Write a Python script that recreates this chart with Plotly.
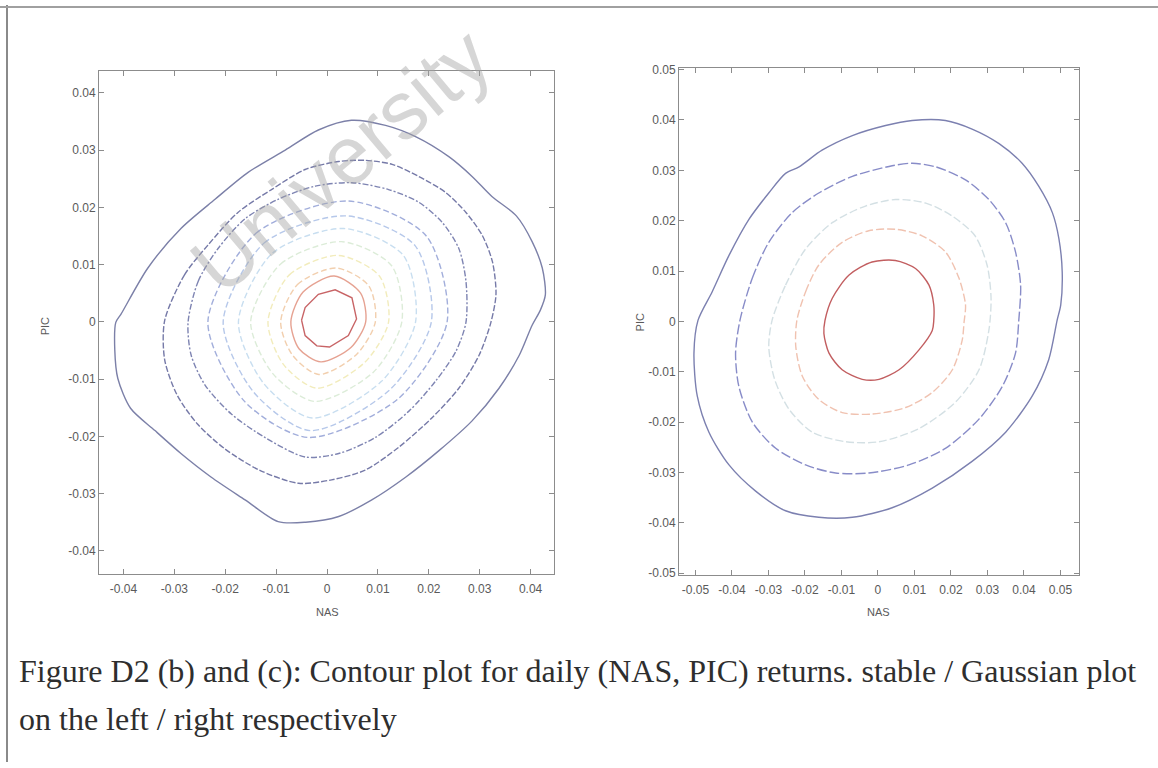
import plotly.graph_objects as go

# ---------------- ticks ----------------
left_ticks = [-0.04, -0.03, -0.02, -0.01, 0.0, 0.01, 0.02, 0.03, 0.04]
left_tick_labels = ["-0.04", "-0.03", "-0.02", "-0.01", "0", "0.01", "0.02", "0.03", "0.04"]
right_ticks = [-0.05, -0.04, -0.03, -0.02, -0.01, 0.0, 0.01, 0.02, 0.03, 0.04, 0.05]
right_tick_labels = ["-0.05", "-0.04", "-0.03", "-0.02", "-0.01", "0", "0.01", "0.02", "0.03", "0.04", "0.05"]

# ---------------- stable (left) contour lines ----------------
stable_1_x = [-0.0415, -0.0405, -0.0352, -0.0287, -0.0220, -0.0155, -0.0082, -0.0017, 0.0048, 0.0115, 0.0175, 0.0240,
              0.0285, 0.0324, 0.0372, 0.0403, 0.0423, 0.0429, 0.0419, 0.0403, 0.0378, 0.0338, 0.0285, 0.0220, 0.0155,
              0.0088, 0.0023, -0.0042, -0.0096, -0.0161, -0.0228, -0.0287, -0.0338, -0.0386, -0.0411, -0.0417, -0.0415]
stable_1_y = [-0.0001, 0.0013, 0.0094, 0.0163, 0.0214, 0.0261, 0.0300, 0.0335, 0.0352, 0.0343, 0.0323, 0.0288,
              0.0254, 0.0219, 0.0185, 0.0140, 0.0094, 0.0047, 0.0020, -0.0006, -0.0058, -0.0116, -0.0173, -0.0225, -0.0271,
              -0.0311, -0.0340, -0.0350, -0.0349, -0.0311, -0.0271, -0.0230, -0.0190, -0.0151, -0.0099, -0.0049, -0.0001]
stable_2_x = [-0.0319, -0.0280, -0.0234, -0.0175, -0.0109, -0.0043, 0.0023, 0.0075, 0.0128, 0.0180, 0.0233, 0.0273,
              0.0305, 0.0325, 0.0332, 0.0322, 0.0299, 0.0259, 0.0207, 0.0141, 0.0075, 0.0009, -0.0056, -0.0133, -0.0202,
              -0.0255, -0.0295, -0.0319, -0.0319]
stable_2_y = [0.0002, 0.0082, 0.0134, 0.0191, 0.0231, 0.0266, 0.0280, 0.0282, 0.0275, 0.0254, 0.0226, 0.0191,
              0.0151, 0.0105, 0.0048, -0.0001, -0.0058, -0.0116, -0.0167, -0.0219, -0.0259, -0.0276, -0.0282, -0.0259, -0.0221,
              -0.0178, -0.0127, -0.0066, 0.0002]
stable_3_x = [-0.0273, -0.0253, -0.0214, -0.0161, -0.0096, -0.0023, 0.0049, 0.0121, 0.0180, 0.0226, 0.0259, 0.0273,
              0.0273, 0.0253, 0.0213, 0.0161, 0.0095, 0.0023, -0.0043, -0.0122, -0.0188, -0.0240, -0.0267, -0.0273]
stable_3_y = [-0.0001, 0.0071, 0.0128, 0.0180, 0.0214, 0.0237, 0.0243, 0.0231, 0.0209, 0.0174, 0.0128, 0.0071,
              -0.0001, -0.0052, -0.0104, -0.0156, -0.0202, -0.0230, -0.0236, -0.0202, -0.0161, -0.0110, -0.0058, -0.0001]
stable_4_x = [-0.0234, -0.0139, 0.0042, 0.0195, 0.0236, 0.0139, -0.0037, -0.0162, -0.0234]
stable_4_y = [0.0, 0.0155, 0.0211, 0.0150, 0.0, -0.0135, -0.0202, -0.0139, 0.0]
stable_5_x = [-0.0204, -0.0123, 0.0038, 0.0173, 0.0205, 0.0123, -0.0033, -0.0144, -0.0204]
stable_5_y = [0.0, 0.0138, 0.0185, 0.0133, 0.0, -0.0119, -0.0190, -0.0123, 0.0]
stable_6_x = [-0.0174, -0.0107, 0.0033, 0.0150, 0.0174, 0.0107, -0.0029, -0.0125, -0.0174]
stable_6_y = [0.0, 0.0120, 0.0163, 0.0116, 0.0, -0.0104, -0.0168, -0.0107, 0.0]
stable_7_x = [-0.0150, -0.0091, 0.0028, 0.0127, 0.0147, 0.0091, -0.0024, -0.0106, -0.0150]
stable_7_y = [0.0, 0.0101, 0.0140, 0.0098, 0.0, -0.0088, -0.0139, -0.0091, 0.0]
stable_8_x = [-0.0116, -0.0074, 0.0022, 0.0103, 0.0121, 0.0074, -0.0020, -0.0086, -0.0116]
stable_8_y = [0.0, 0.0082, 0.0116, 0.0080, 0.0, -0.0071, -0.0116, -0.0074, 0.0]
stable_9_x = [-0.0091, -0.0058, 0.0018, 0.0082, 0.0095, 0.0058, -0.0016, -0.0068, -0.0091]
stable_9_y = [0.0, 0.0065, 0.0094, 0.0063, 0.0, -0.0057, -0.0092, -0.0058, 0.0]
stable_10_x = [-0.0071, -0.0047, 0.0014, 0.0066, 0.0076, 0.0047, -0.0012, -0.0055, -0.0071]
stable_10_y = [0.0, 0.0052, 0.0080, 0.0050, 0.0, -0.0045, -0.0070, -0.0047, 0.0]
stable_11_x = [-0.0050, -0.0043, -0.0017, 0.0016, 0.0049, 0.0058, 0.0042, 0.0005, -0.0020, -0.0043, -0.0050]
stable_11_y = [0.0003, 0.0025, 0.0048, 0.0056, 0.0042, 0.0005, -0.0024, -0.0044, -0.0042, -0.0024, 0.0003]

# ---------------- Gaussian (right) contour lines ----------------
gauss_1_x = [-0.0493, -0.0454, -0.0408, -0.0353, -0.0299, -0.0253, -0.0216, -0.0153, -0.0070, 0.0021, 0.0094, 0.0185,
             0.0258, 0.0332, 0.0395, 0.0441, 0.0478, 0.0496, 0.0505, 0.0501, 0.0491, 0.0468, 0.0423, 0.0350, 0.0258,
             0.0149, 0.0039, -0.0070, -0.0162, -0.0253, -0.0335, -0.0408, -0.0463, -0.0495, -0.0504, -0.0493]
gauss_1_y = [0.0002, 0.0059, 0.0131, 0.0203, 0.0255, 0.0294, 0.0307, 0.0340, 0.0369, 0.0389, 0.0399, 0.0399,
             0.0382, 0.0353, 0.0314, 0.0268, 0.0216, 0.0164, 0.0098, 0.0033, 0.0002, -0.0076, -0.0148, -0.0220, -0.0278,
             -0.0331, -0.0370, -0.0389, -0.0389, -0.0376, -0.0337, -0.0285, -0.0220, -0.0148, -0.0063, 0.0002]
gauss_2_x = [-0.0378, -0.0344, -0.0299, -0.0235, -0.0162, -0.0070, 0.0039, 0.0094, 0.0158, 0.0240, 0.0304, 0.0350,
             0.0377, 0.0391, 0.0386, 0.0377, 0.0341, 0.0277, 0.0185, 0.0085, -0.0025, -0.0116, -0.0198, -0.0280, -0.0344,
             -0.0381, -0.0390, -0.0378]
gauss_2_y = [0.0002, 0.0086, 0.0157, 0.0216, 0.0255, 0.0288, 0.0309, 0.0314, 0.0307, 0.0281, 0.0242, 0.0196,
             0.0138, 0.0072, 0.0002, -0.0063, -0.0129, -0.0194, -0.0252, -0.0285, -0.0301, -0.0301, -0.0285, -0.0252, -0.0200,
             -0.0129, -0.0063, 0.0002]
gauss_3_x = [-0.0290, -0.0253, -0.0198, -0.0125, -0.0034, 0.0048, 0.0131, 0.0204, 0.0266, 0.0299, 0.0310, 0.0304,
             0.0277, 0.0213, 0.0112, 0.0003, -0.0088, -0.0180, -0.0244, -0.0283, -0.0299, -0.0290]
gauss_3_y = [0.0002, 0.0072, 0.0144, 0.0196, 0.0229, 0.0242, 0.0235, 0.0209, 0.0170, 0.0112, 0.0047, -0.0018,
             -0.0096, -0.0160, -0.0213, -0.0239, -0.0239, -0.0220, -0.0174, -0.0115, -0.0050, 0.0002]
gauss_4_x = [-0.0222, -0.0198, -0.0162, -0.0098, -0.0025, 0.0048, 0.0121, 0.0185, 0.0222, 0.0240, 0.0236, 0.0231,
             0.0204, 0.0149, 0.0076, -0.0016, -0.0098, -0.0162, -0.0207, -0.0225, -0.0222]
gauss_4_y = [0.0002, 0.0059, 0.0112, 0.0157, 0.0180, 0.0183, 0.0170, 0.0138, 0.0086, 0.0033, -0.0002, -0.0037,
             -0.0096, -0.0141, -0.0171, -0.0184, -0.0181, -0.0155, -0.0109, -0.0050, 0.0002]
gauss_5_x = [-0.0145, -0.0125, -0.0079, -0.0016, 0.0048, 0.0103, 0.0140, 0.0153, 0.0153, 0.0149, 0.0112, 0.0058,
             0.0003, -0.0043, -0.0098, -0.0134, -0.0148, -0.0145]
gauss_5_y = [0.0002, 0.0046, 0.0092, 0.0118, 0.0121, 0.0105, 0.0072, 0.0033, 0.0001, -0.0018, -0.0057, -0.0096,
             -0.0115, -0.0115, -0.0096, -0.0063, -0.0024, 0.0002]

stable_lines = [
    (stable_1_x, stable_1_y), (stable_2_x, stable_2_y), (stable_3_x, stable_3_y), (stable_4_x, stable_4_y),
    (stable_5_x, stable_5_y), (stable_6_x, stable_6_y), (stable_7_x, stable_7_y), (stable_8_x, stable_8_y),
    (stable_9_x, stable_9_y), (stable_10_x, stable_10_y), (stable_11_x, stable_11_y),
]
gauss_lines = [
    (gauss_1_x, gauss_1_y), (gauss_2_x, gauss_2_y), (gauss_3_x, gauss_3_y),
    (gauss_4_x, gauss_4_y), (gauss_5_x, gauss_5_y),
]

# ---------------- styles ----------------
stable_colors = ["#7c80a8", "#767aa8", "#7e84b2", "#a2aedb", "#b6c8ea", "#c8def0", "#dcecd8",
                 "#f2ecbc", "#f2cfae", "#e6a292", "#c86466"]
stable_dash = ["solid", "6px,2px", "6px,2px,2px,2px", "6px,3px", "6px,3px", "6px,3px", "6px,3px",
               "6px,3px", "6px,3px", "solid", "solid"]
gauss_colors = ["#7c80b0", "#888cc8", "#d4e0e4", "#f0c2b0", "#c25e60"]
gauss_dash = ["solid", "10px,3px", "8px,3px", "8px,3px", "solid"]

tick_font = dict(family="Liberation Sans, Arial, sans-serif", size=12, color="#5a5a5a")
axis_col = "#8c8c8c"

fig = go.Figure()

for i, (xs, ys) in enumerate(stable_lines):
    fig.add_trace(go.Scatter(
        x=xs, y=ys, mode="lines", xaxis="x", yaxis="y",
        line=dict(color=stable_colors[i], width=1.4, dash=stable_dash[i],
                  shape="linear" if i == len(stable_lines) - 1 else "spline", smoothing=0.8),
        hoverinfo="skip", showlegend=False))

for i, (xs, ys) in enumerate(gauss_lines):
    fig.add_trace(go.Scatter(
        x=xs, y=ys, mode="lines", xaxis="x2", yaxis="y2",
        line=dict(color=gauss_colors[i], width=1.4, dash=gauss_dash[i], shape="spline", smoothing=0.8),
        hoverinfo="skip", showlegend=False))

W, H = 1158, 768


def px_x(p):
    return p / W


def px_y(p):
    return 1 - p / H


common_axis = dict(showgrid=False, zeroline=False, showline=True, linecolor=axis_col, linewidth=1,
                   mirror="ticks", ticks="inside", ticklen=5, tickcolor=axis_col, tickwidth=1,
                   tickfont=tick_font, fixedrange=True)

fig.update_layout(
    width=W, height=H, autosize=False,
    margin=dict(l=0, r=0, t=0, b=0),
    paper_bgcolor="white", plot_bgcolor="white",
    showlegend=False,
    xaxis=dict(domain=[px_x(99), px_x(554)], range=[-0.0448, 0.0446], anchor="y",
               tickvals=left_ticks, ticktext=left_tick_labels, ticklabelstandoff=4, **common_axis),
    yaxis=dict(domain=[px_y(577), px_y(67)], range=[-0.0440, 0.0438], anchor="x",
               tickvals=left_ticks, ticktext=left_tick_labels, **common_axis),
    xaxis2=dict(domain=[px_x(679), px_x(1079)], range=[-0.0545, 0.0551], anchor="y2",
                tickvals=right_ticks, ticktext=right_tick_labels, ticklabelstandoff=4, **common_axis),
    yaxis2=dict(domain=[px_y(578), px_y(64)], range=[-0.0503, 0.0503], anchor="x2",
                tickvals=right_ticks, ticktext=right_tick_labels, **common_axis),
)

label_font = dict(family="Liberation Sans, Arial, sans-serif", size=11, color="#5a5a5a")
caption_font = dict(family="Liberation Serif, Times New Roman, serif", size=32, color="#2e2e2e")

annotations = [
    dict(text="NAS", x=px_x(327), y=px_y(616), xref="paper", yref="paper", showarrow=False,
         xanchor="center", yanchor="middle", font=label_font),
    dict(text="NAS", x=px_x(878), y=px_y(616), xref="paper", yref="paper", showarrow=False,
         xanchor="center", yanchor="middle", font=label_font),
    dict(text="PIC", x=px_x(45), y=px_y(326), xref="paper", yref="paper", showarrow=False,
         textangle=-90, xanchor="center", yanchor="middle", font=label_font),
    dict(text="PIC", x=px_x(640), y=px_y(322), xref="paper", yref="paper", showarrow=False,
         textangle=-90, xanchor="center", yanchor="middle", font=label_font),
    dict(text="Figure D2 (b) and (c): Contour plot for daily (NAS, PIC) returns. stable / Gaussian plot",
         x=px_x(17), y=px_y(676), xref="paper", yref="paper", showarrow=False,
         xanchor="left", yanchor="middle", font=caption_font),
    dict(text="on the left / right respectively",
         x=px_x(17), y=px_y(724), xref="paper", yref="paper", showarrow=False,
         xanchor="left", yanchor="middle", font=caption_font),
    dict(text="University", x=px_x(341), y=px_y(158), xref="paper", yref="paper", showarrow=False,
         textangle=-40, xanchor="center", yanchor="middle",
         font=dict(family="Liberation Sans, Arial, sans-serif", size=82, color="rgba(165,165,165,0.45)")),
]
fig.update_layout(annotations=annotations)

fig.update_layout(shapes=[
    dict(type="line", xref="paper", yref="paper", x0=px_x(7), x1=px_x(7), y0=0, y1=1,
         line=dict(color="#8a8a8a", width=2)),
    dict(type="line", xref="paper", yref="paper", x0=0, x1=1, y0=px_y(2), y1=px_y(2),
         line=dict(color="#a0a0a0", width=2)),
])

fig.write_html("out.html", config={"displayModeBar": False},
               post_script="document.body.style.margin='0px';document.body.style.overflow='hidden';")
